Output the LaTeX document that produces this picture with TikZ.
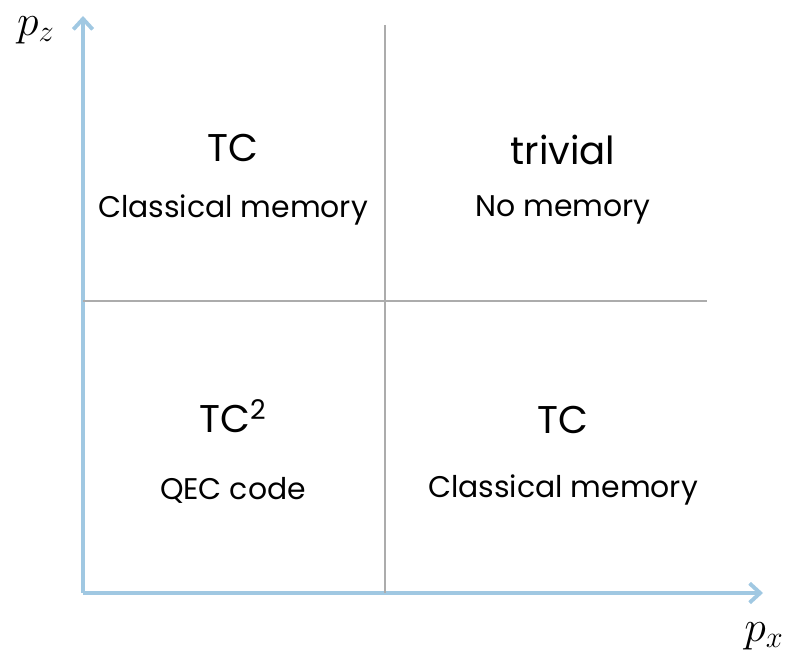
\documentclass[tikz,border=0pt]{standalone}
\usepackage{fontspec}
\setmainfont{Poppins}
\usepackage{tikz}
\usetikzlibrary{arrows.meta}
\definecolor{axisblue}{RGB}{160,200,226}
\definecolor{divgray}{RGB}{172,172,172}

\begin{document}
\begin{tikzpicture}[x=0.02cm, y=0.02cm,
      axis/.style={draw=axisblue, line width=2.2pt, -{Straight Barb[length=6pt, width=11pt, line width=2.2pt]}},
      divider/.style={draw=divgray, line width=0.8pt},
      phase/.style={font=\fontsize{22}{25}\selectfont, inner sep=0pt},
      memo/.style={font=\fontsize{17}{20}\selectfont, inner sep=0pt},
      axlabel/.style={font=\fontsize{24}{28}\selectfont, inner sep=0pt}
    ]
      \useasboundingbox (0,0) rectangle (791,662);

      % axes
      \coordinate (origin) at (83,69);
      \coordinate (ztip) at (83,646);
      \coordinate (xtip) at (763,69);
      \draw[axis] (origin) -- (ztip);
      \draw[axis] (origin) -- (xtip);
      \node[axlabel] (pz) at (36,632) {$p_z$};
      \node[axlabel] (px) at (764,26) {$p_x$};

      % phase boundaries
      \coordinate (vtop) at (385,637);
      \coordinate (vbot) at (385,69);
      \coordinate (hleft) at (83,361);
      \coordinate (hright) at (707,361);
      \draw[divider] (vtop) -- (vbot);
      \draw[divider] (hleft) -- (hright);

      % upper left
      \node[phase] (tcUp) at (233,514) {TC};
      \node[memo] (clUp) at (233,452) {Classical memory};

      % upper right
      \node[phase] (triv) at (563,512) {trivial};
      \node[memo] (nomem) at (563,452) {No memory};

      % lower left
      \node[phase] (tcsq) at (233,246) {TC\textsuperscript{2}};
      \node[memo] (qec) at (233,172) {QEC code};

      % lower right
      \node[phase] (tcLow) at (563,242) {TC};
      \node[memo] (clLow) at (563,172) {Classical memory};
    \end{tikzpicture}
\end{document}
